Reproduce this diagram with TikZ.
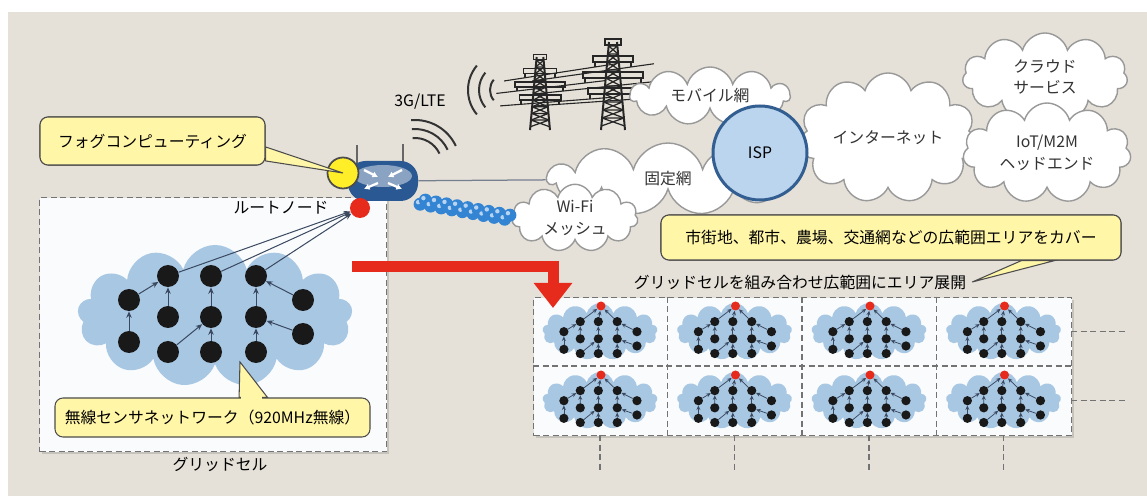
\documentclass[tikz,border=0pt]{standalone}
\usepackage{fontspec}
\setmainfont{Noto Sans CJK JP}
\usetikzlibrary{arrows.meta,shapes.symbols,shadows,calc,positioning}

\definecolor{paper}{RGB}{229,225,216}
\definecolor{cellwhite}{RGB}{249,251,253}
\definecolor{skyblue}{RGB}{168,199,227}
\definecolor{memoyellow}{RGB}{255,246,168}
\definecolor{signal}{RGB}{230,42,28}
\definecolor{ispblue}{RGB}{186,213,237}
\definecolor{ispedge}{RGB}{50,94,146}
\definecolor{hubblue}{RGB}{42,88,146}
\definecolor{meshblue}{RGB}{52,132,212}
\definecolor{fogyellow}{RGB}{255,238,40}
\definecolor{wire}{RGB}{58,72,96}

\begin{document}
\begin{tikzpicture}[
  x=0.2mm, y=-0.2mm,   % one unit per pixel, y running down
  font=\fontsize{9}{12.5}\selectfont,
  cellbox/.style      = {draw=black!55, semithick, dash pattern=on 1.2mm off 0.7mm,
                         fill=cellwhite, inner sep=0, anchor=north west,
                         drop shadow={opacity=0.3, shadow xshift=0.5mm, shadow yshift=-0.5mm}},
  celldash/.style     = {draw=black!55, semithick, dash pattern=on 1.2mm off 0.7mm},
  bluecloud/.style    = {cloud, cloud puffs=13, cloud ignores aspect, fill=skyblue,
                         inner sep=0},
  netcloud/.style     = {cloud, cloud puffs=11, cloud ignores aspect, fill=white,
                         draw=black!40, thick, inner sep=0, align=center, text=black!80},
  sensor/.style       = {circle, fill=black!90, inner sep=0, minimum size=4.4mm},
  root/.style         = {circle, fill=signal, inner sep=0, minimum size=4mm},
  netlink/.style      = {draw=wire, line width=0.2mm, -{Stealth[length=1.3mm,width=1.1mm]}},
  minilink/.style     = {draw=wire, line width=0.15mm, -{Stealth[length=0.9mm,width=0.8mm]}},
  mini/.style         = {scale=0.42, transform shape, netlink/.style={minilink}},
  callout/.style      = {draw=black!70, fill=memoyellow, semithick, rounded corners=1.6mm,
                         inner sep=0},
  calloutwedge/.style = {draw=black!70, fill=memoyellow, semithick},
  spread/.style       = {draw=signal, line width=2.2mm,
                         -{Triangle[length=5mm,width=7.4mm]}},
  hub/.style          = {rectangle, rounded corners=3.5mm, fill=hubblue, inner sep=0,
                         minimum width=14mm, minimum height=8mm},
  hubmark/.style      = {draw=white, line width=0.45mm, -{Latex[length=1.1mm,width=1.3mm]}},
  antenna/.style      = {draw=black!60, line width=0.35mm},
  fog/.style          = {circle, fill=fogyellow, draw=black!70, line width=0.35mm,
                         inner sep=0, minimum size=6.2mm},
  isp/.style          = {circle, fill=ispblue, draw=ispedge, line width=0.6mm,
                         inner sep=0, minimum size=18.8mm},
  link/.style         = {draw=wire!70, line width=0.25mm},
  wave/.style         = {draw=black!80, line width=0.4mm},
  pylonline/.style    = {draw=black!85, line width=0.3mm},
  % the 920MHz tree: 13 sensors, parent arrows point towards the top row
  sensornet/.pic = {
    \foreach \n/\x/\y in {a1/-86/-15, a2/-86/27, b0/-47/-39, b1/-47/2, b2/-47/37,
                          c0/-4/-39, c1/-4/2, c2/-4/37, d0/41/-39, d1/41/2, d2/41/37,
                          e1/88/-15, e2/88/19}
      \node[sensor] (-\n) at (\x,\y) {};
    \foreach \a/\b in {a2/a1, a1/b0, b1/b0, b2/c1, c2/c1, c1/c0,
                       d2/d1, d1/d0, e1/d0, e2/d1}
      \draw[netlink] (-\a) -- (-\b);
  },
  % transmission tower, origin at the top
  pylon/.pic = {
    \draw[pylonline, line width=0.4mm] (-4,0) -- (-12,88) (4,0) -- (12,88);
    \draw[pylonline] (-8,-3) rectangle (8,3);
    \foreach \y in {4,12,...,76}
      \draw[pylonline, line width=0.25mm]
        ({-4-\y/11},\y) -- ({4+(\y+8)/11},\y+8)
        ({4+\y/11},\y) -- ({-4-(\y+8)/11},\y+8)
        ({-4-\y/11},\y) -- ({4+\y/11},\y);
    \foreach \k/\y/\w in {1/14/20, 2/30/30, 3/46/25} {
      \draw[pylonline] (-\w,\y) rectangle (\w,\y+6);
      \draw[pylonline] (-\w+2,\y+6) -- (-\w+2,\y+11) (\w-2,\y+6) -- (\w-2,\y+11);
      \coordinate (-l\k) at (-\w+2,\y+11);
      \coordinate (-r\k) at (\w-2,\y+11);
    }
  },
]

  \useasboundingbox (0,0) rectangle (1147,496);
  \fill[paper] (8,12) rectangle (1147,496);

  % one grid cell with its sensor network
  \node[cellbox, minimum width=69.4mm, minimum height=50.8mm] (cell) at (39,197) {};
  \node[bluecloud, minimum width=55mm, minimum height=28.4mm] (sensorcloud) at (215,316) {};
  \pic (net) at (215,315) {sensornet};
  \node (celllabel) at (220,464) {グリッドセル};

  \coordinate (wsntip) at (240,362);
  \node[callout, minimum width=63mm, minimum height=7.8mm] (wsnbox) at (212.5,417.5)
    {無線センサネットワーク（920MHz無線）};
  \filldraw[calloutwedge] (wsnbox.37) -- (wsntip) -- (wsnbox.20) -- cycle;
  \draw[draw=memoyellow, line width=0.5mm] (wsnbox.35) -- (wsnbox.22);

  % grid of cells
  \node[cellbox, minimum width=107.6mm, minimum height=27.6mm] (grid) at (533,297) {};
  \foreach \x in {667.5,802,936.5}
    \draw[celldash] (\x,297) -- (\x,435);
  \draw[celldash] (533,366) -- (1071,366);
  \foreach \y in {331.5,400.5}
    \draw[celldash] (1071,\y) -- (1127,\y);
  \foreach \x in {600,734.5,869,1003.5}
    \draw[celldash] (\x,435) -- (\x,472);

  \foreach \col/\cx in {1/600,2/734.5,3/869,4/1003.5}
    \foreach \row/\cy in {1/331.5,2/400.5} {
      \node[bluecloud, minimum width=23mm, minimum height=11.4mm] at (\cx,\cy) {};
      \pic[mini] (m\row\col) at (\cx,\cy+6.5) {sensornet};
      \node[root, minimum size=1.8mm] (r\row\col) at (\cx+1,\cy-25.5) {};
      \foreach \t in {b0,c0,d0}
        \draw[minilink] (m\row\col-\t) -- (r\row\col);
    }

  \node (spreadlabel) at (800,282) {グリッドセルを組み合わせ広範囲にエリア展開};

  \coordinate (fromcell) at (352,266.5);
  \coordinate (tocell) at (553,308);
  \draw[spread] (fromcell) -| (tocell);

  % power line and radio
  \pic[scale=0.83] (near) at (540,57) {pylon};
  \pic (far) at (613,42) {pylon};
  \foreach \k in {1,2,3}
    \foreach \s in {l,r}
      \draw[pylonline, line width=0.22mm]
        ($(near-\s\k)!-0.3!(far-\s\k)$) -- ($(far-\s\k)!-0.3!(near-\s\k)$);
  \foreach \r in {16,27,38}
    \draw[wave] (506,90) ++(140:\r) arc[start angle=140, end angle=220, radius=\r];
  \node (lte) at (420,102) {3G/LTE};

  % networks
  \node[netcloud, minimum width=32mm, minimum height=11.6mm] (mobile) at (710,96) {モバイル網};
  \node[netcloud, minimum width=48mm, minimum height=14.4mm] (fixed) at (668,179) {固定網};
  \node[netcloud, minimum width=25.2mm, minimum height=13.2mm] (wifi) at (575,218)
    {Wi-Fi\\メッシュ};
  \node[netcloud, minimum width=35.6mm, minimum height=26mm] (internet) at (888,138)
    {インターネット};
  \node[netcloud, minimum width=33mm, minimum height=17.6mm] (cloudsvc) at (1045,77)
    {クラウド\\サービス};
  \node[netcloud, minimum width=33.6mm, minimum height=20mm] (headend) at (1047,153)
    {IoT/M2M\\ヘッドエンド};
  \node[isp] (isp) at (760,153) {ISP};

  \node[callout, minimum width=92mm, minimum height=9mm] (areabox) at (891,237.5) {};
  \filldraw[calloutwedge] (areabox.-10) -- (spreadlabel.east) -- (areabox.-8) -- cycle;
  \node[callout, minimum width=92mm, minimum height=9mm] at (areabox)
    {市街地、都市、農場、交通網などの広範囲エリアをカバー};

  % gateway
  \draw[antenna] (357,166) -- (357,145);
  \draw[antenna] (403,166) -- (403,144);
  \node[hub] (router) at (383,181) {};
  \fill[hubblue!55!white] (383,176) ellipse [x radius=29, y radius=11];
  \draw[hubmark] (364,170) -- (378,177);
  \draw[hubmark] (402,170) -- (388,177);
  \draw[hubmark] (378,183) -- (364,189);
  \draw[hubmark] (388,183) -- (402,189);
  \foreach \r in {27,36,45}
    \draw[wave] (415,165) ++(-95:\r) arc[start angle=-95, end angle=-25, radius=\r];

  \draw[link] (router) -- (fixed);
  \foreach \i [evaluate=\i as \t using 0.02+\i*0.96/17] in {0,...,17} {
    \coordinate (bead) at ($(router.-30)!\t!(wifi.west)$);
    \fill[meshblue] (bead) ++(0,{2.5*(-1)^\i}) circle (6.5);
    \fill[meshblue!35!white] (bead) ++(-2,{2.5*(-1)^\i-2}) circle (2.2);
  }

  \node[fog] (fog) at (343,173) {};
  \node[callout, minimum width=45mm, minimum height=9.6mm] (fogbox) at (152.5,141) {};
  \filldraw[calloutwedge] (fogbox.-3) -- (fog.center) -- (fogbox.-10) -- cycle;
  \node[callout, minimum width=45mm, minimum height=9.6mm] at (fogbox)
    {フォグコンピューティング};

  % root node of the cell
  \node[root] (root) at (360,208) {};
  \node[left=3mm of root] (rootlabel) {ルートノード};
  \foreach \t in {b0,c0,d0}
    \draw[netlink] (net-\t) -- (root);

\end{tikzpicture}
\end{document}
